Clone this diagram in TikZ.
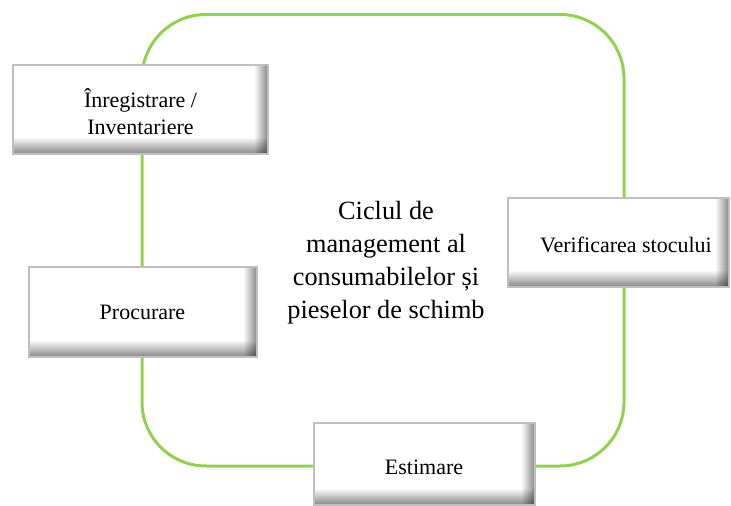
\documentclass[tikz,border=0pt]{standalone}
\usepackage{fontspec}
\setmainfont{Liberation Serif}
\definecolor{cycgreen}{RGB}{146,208,80}
\definecolor{boxborder}{RGB}{191,191,191}
\begin{document}
\begin{tikzpicture}[x=1pt,y=-1pt,
  cycle/.style={draw=cycgreen, line width=3pt, rounded corners=64pt},
  stepbox/.style={draw=boxborder, line width=1.5pt, fill=white, inner sep=0pt,
    path picture={
      \foreach \i in {1,...,16} {
        \pgfmathsetmacro{\c}{(17-\i)*0.028}
        \fill[black, opacity=\c] ([yshift={\i*1pt-1pt}]path picture bounding box.south west)
          rectangle ([yshift={\i*1pt}]path picture bounding box.south east);
      }
      \foreach \i in {1,...,13} {
        \pgfmathsetmacro{\c}{(14-\i)*0.034}
        \fill[black, opacity=\c] ([xshift={-\i*1pt}]path picture bounding box.north east)
          rectangle ([xshift={-\i*1pt+1pt}]path picture bounding box.south east);
      }
    }},
  lbl/.style={inner sep=0pt, align=center, text=black, font=\fontsize{22}{27}\selectfont},
  title/.style={inner sep=0pt, align=center, text=black, font=\fontsize{26.3}{33}\selectfont}]
  \useasboundingbox (0,0) rectangle (731,506);
  % cycle
  \coordinate (ctl) at (142,14.5);
  \coordinate (cbr) at (624,466);
  \draw[cycle] (ctl) rectangle (cbr);
  % boxes
  \node[stepbox, minimum width=255pt, minimum height=89pt] (b1) at (140.5,109.5) {};
  \node[stepbox, minimum width=228pt, minimum height=90pt] (b2) at (143,312) {};
  \node[stepbox, minimum width=221pt, minimum height=89pt] (b3) at (618.5,242.5) {};
  \node[stepbox, minimum width=221pt, minimum height=82pt] (b4) at (424.5,464) {};
  % labels
  \node[lbl] (t1) at (140.5,112) {Înregistrare /\\Inventariere};
  \node[lbl] (t2) at (142.5,312.7) {Procurare};
  \node[lbl] (t3) at (626,244.5) {Verificarea stocului};
  \node[lbl] (t4) at (424,467.7) {Estimare};
  \node[title] (ttl) at (386,262.4) {Ciclul de\\management al\\consumabilelor și\\pieselor de schimb};
\end{tikzpicture}
\end{document}
